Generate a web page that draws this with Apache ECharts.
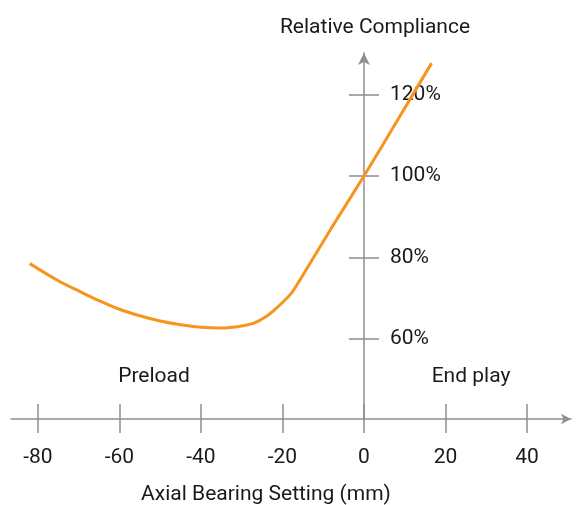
<!DOCTYPE html>
<html>
<head>
<meta charset="utf-8">
<script src="https://cdn.jsdelivr.net/npm/echarts@6/dist/echarts.min.js"></script>
<style>
html,body{margin:0;padding:0;background:#fff;}
#chart{width:576px;height:505px;}
</style>
</head>
<body>
<div id="chart"></div>
<script>
// Axial bearing setting (mm) and relative compliance (%)
const settingMm = [-82, -75, -70, -65, -60, -55, -50, -45, -40, -35, -30, -27, -24, -21, -18, -15.7, -8, 0, 8, 16.6];
const compliancePct = [78.5, 74.3, 71.8, 69.4, 67.3, 65.7, 64.4, 63.5, 62.9, 62.7, 63.2, 63.9, 65.5, 68, 71, 74.5, 87.2, 100, 113.3, 127.7];
const xTicks = [-80, -60, -40, -20, 0, 20, 40];
const yTicks = [60, 80, 100, 120];
const xRange = [-86.6, 50.8];
const yRange = [40.37, 130.18];

const FONT = "Roboto, 'Liberation Sans', sans-serif";
const FS = 21;
const TXT = '#1a1a1a';
const AX = '#8f8f8f';

const chart = echarts.init(document.getElementById('chart'), null, {renderer: 'canvas'});
const data = settingMm.map((x, i) => [x, compliancePct[i]]);

chart.setOption({
  animation: false,
  backgroundColor: '#ffffff',
  grid: [
    {left: 11, right: 5, top: 53, bottom: 86, containLabel: false},
    // right half grid starting at x = 0, used only to carry the right-side y labels/ticks
    {left: 364, right: 5, top: 53, bottom: 86, containLabel: false}
  ],
  xAxis: [
    {
      type: 'value', gridIndex: 0, min: xRange[0], max: xRange[1], position: 'bottom',
      axisLine: {show: true, onZero: false, symbol: ['none', 'arrow'], symbolSize: [8, 10],
                 lineStyle: {color: AX, width: 1.5}},
      axisTick: {show: true, inside: false, length: 14, customValues: xTicks, lineStyle: {color: AX, width: 1.5}},
      axisLabel: {show: true, customValues: xTicks, margin: 28, fontSize: FS, fontFamily: FONT, color: TXT},
      splitLine: {show: false}
    },
    {
      type: 'value', gridIndex: 0, min: xRange[0], max: xRange[1], position: 'bottom',
      axisLine: {show: false, onZero: false},
      axisTick: {show: true, inside: true, length: 15, customValues: xTicks, lineStyle: {color: AX, width: 1.5}},
      axisLabel: {show: false},
      splitLine: {show: false}
    },
    {
      type: 'value', gridIndex: 1, min: 0, max: xRange[1], show: false
    }
  ],
  yAxis: [
    {
      type: 'value', gridIndex: 0, min: yRange[0], max: yRange[1], position: 'left',
      axisLine: {show: true, onZero: true, onZeroAxisIndex: 0, symbol: ['none', 'arrow'], symbolSize: [9, 12],
                 lineStyle: {color: AX, width: 1.5}},
      axisTick: {show: true, inside: false, length: 15, customValues: yTicks, lineStyle: {color: AX, width: 1.5}},
      axisLabel: {show: false},
      splitLine: {show: false}
    },
    {
      type: 'value', gridIndex: 1, min: yRange[0], max: yRange[1], position: 'left',
      axisLine: {show: false, onZero: false},
      axisTick: {show: true, inside: true, length: 15, customValues: yTicks, lineStyle: {color: AX, width: 1.5}},
      axisLabel: {show: true, inside: true, customValues: yTicks, margin: 26, fontSize: FS, fontFamily: FONT, color: TXT,
                  formatter: v => v + '%'},
      splitLine: {show: false}
    }
  ],
  series: [{
    type: 'line',
    data: data,
    xAxisIndex: 0, yAxisIndex: 0,
    smooth: 0.3,
    showSymbol: false,
    lineStyle: {color: '#F7941D', width: 3},
    z: 5
  }],
  graphic: [
    {type: 'text', x: 375, y: 28, style: {text: 'Relative Compliance', fontSize: FS, fontFamily: FONT, fill: TXT, align: 'center', verticalAlign: 'middle'}},
    {type: 'text', x: 154, y: 377, style: {text: 'Preload', fontSize: FS, fontFamily: FONT, fill: TXT, align: 'center', verticalAlign: 'middle'}},
    {type: 'text', x: 471, y: 377, style: {text: 'End play', fontSize: FS, fontFamily: FONT, fill: TXT, align: 'center', verticalAlign: 'middle'}},
    {type: 'text', x: 266, y: 495, style: {text: 'Axial Bearing Setting (mm)', fontSize: FS, fontFamily: FONT, fill: TXT, align: 'center', verticalAlign: 'middle'}}
  ]
});
</script>
</body>
</html>
